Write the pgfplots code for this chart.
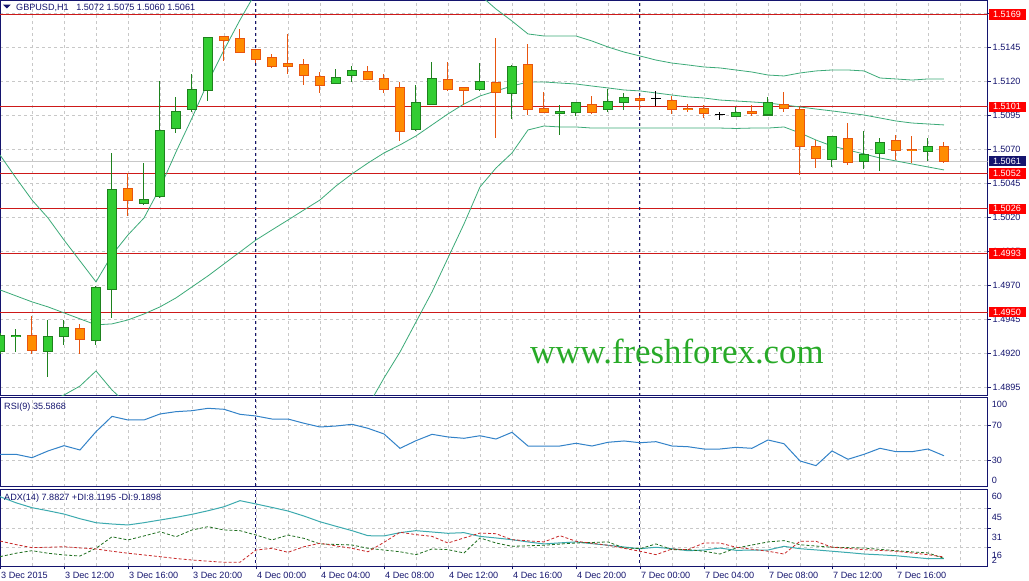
\documentclass[border=0pt]{standalone}
\usepackage{fontspec}
\setmainfont{Liberation Sans}
\newfontfamily\wmfont{Liberation Serif}
\usepackage{pgfplots}
\usepackage{pgfplotstable}
\pgfplotsset{compat=1.18}

\definecolor{mtnavy}{RGB}{20,20,110}
\definecolor{mtgrid}{RGB}{200,200,200}
\definecolor{bullfill}{RGB}{50,205,50}
\definecolor{bullline}{RGB}{30,130,30}
\definecolor{bearfill}{RGB}{255,140,0}
\definecolor{bearline}{RGB}{232,85,15}
\definecolor{bbgreen}{RGB}{60,170,120}
\definecolor{levelred}{RGB}{205,25,25}
\definecolor{boxred}{RGB}{255,0,0}
\definecolor{rsiblue}{RGB}{50,130,200}
\definecolor{adxteal}{RGB}{60,170,175}
\definecolor{pdigreen}{RGB}{30,110,30}
\definecolor{mdired}{RGB}{200,40,40}
\definecolor{wmgreen}{RGB}{40,170,40}
\definecolor{bidgray}{RGB}{200,200,200}

\newcommand\mtfont{\fontsize{9.1pt}{10pt}\selectfont}

% hourly candles, x = bar number (3 Dec 08:00 = 0)
\pgfplotstableread{
x o h l c
0 1.4921 1.4935 1.4919 1.4933
1 1.4932 1.4938 1.4921 1.4933
3 1.4921 1.4944 1.4902 1.4932
4 1.4932 1.4944 1.4926 1.4939
6 1.4929 1.4969 1.4926 1.4968
7 1.4967 1.5067 1.4946 1.5040
9 1.5030 1.5060 1.5029 1.5033
10 1.5035 1.5120 1.5034 1.5084
11 1.5085 1.5108 1.5082 1.5098
12 1.5099 1.5125 1.5097 1.5114
13 1.5113 1.5152 1.5105 1.5152
21 1.5118 1.5129 1.5118 1.5123
22 1.5124 1.5131 1.5119 1.5128
26 1.5084 1.5117 1.5083 1.5104
27 1.5103 1.5134 1.5102 1.5122
30 1.5114 1.5133 1.5113 1.5120
32 1.5111 1.5132 1.5092 1.5131
35 1.5096 1.5102 1.5080 1.5098
36 1.5097 1.5104 1.5094 1.5104
38 1.5099 1.5114 1.5097 1.5105
39 1.5104 1.5111 1.5099 1.5108
46 1.5094 1.5101 1.5094 1.5097
48 1.5095 1.5108 1.5095 1.5104
52 1.5062 1.5079 1.5057 1.5079
54 1.5061 1.5083 1.5055 1.5066
55 1.5067 1.5078 1.5054 1.5075
58 1.5068 1.5078 1.5061 1.5072
}\bull

\pgfplotstableread{
x o h l c
2 1.4933 1.4947 1.4919 1.4922
5 1.4938 1.4941 1.4919 1.4930
8 1.5041 1.5052 1.5021 1.5032
14 1.5153 1.5153 1.5135 1.5150
15 1.5151 1.5158 1.5141 1.5141
16 1.5143 1.5143 1.5133 1.5136
17 1.5137 1.5140 1.5130 1.5131
18 1.5133 1.5155 1.5125 1.5131
19 1.5132 1.5136 1.5117 1.5124
20 1.5123 1.5127 1.5111 1.5117
23 1.5127 1.5131 1.5121 1.5121
24 1.5122 1.5125 1.5111 1.5114
25 1.5115 1.5119 1.5076 1.5083
28 1.5121 1.5134 1.5113 1.5114
29 1.5115 1.5115 1.5102 1.5113
31 1.5119 1.5152 1.5078 1.5112
33 1.5132 1.5147 1.5095 1.5099
34 1.5100 1.5112 1.5097 1.5097
37 1.5103 1.5109 1.5096 1.5097
40 1.5107 1.5109 1.5099 1.5106
42 1.5106 1.5109 1.5096 1.5099
43 1.5100 1.5103 1.5097 1.5099
44 1.5100 1.5102 1.5093 1.5096
47 1.5098 1.5102 1.5094 1.5096
49 1.5103 1.5112 1.5097 1.5100
50 1.5099 1.5101 1.5051 1.5072
51 1.5072 1.5077 1.5056 1.5063
53 1.5078 1.5089 1.5058 1.5060
56 1.5076 1.5080 1.5062 1.5069
57 1.5070 1.5080 1.5060 1.5069
59 1.5072 1.5075 1.5060 1.5061
}\bear

\pgfplotstableread{
x o h l c
41 1.5107 1.5113 1.5102 1.5107
45 1.5095 1.5097 1.5091 1.5095
}\doji

% bollinger bands
\pgfplotstableread{
x up mid lo
0 1.50656 1.49664 1.48634
1 1.50487 1.49620 1.48707
2 1.50325 1.49576 1.48781
3 1.50193 1.49539 1.48840
4 1.50031 1.49495 1.48891
5 1.49877 1.49451 1.48957
6 1.49723 1.49407 1.49068
7 1.49921 1.49414 1.48928
8 1.50068 1.49443 1.48818
9 1.50193 1.49487 1.48781
10 1.50414 1.49539 1.48663
11 1.50678 1.49605 1.48531
12 1.50928 1.49686 1.48443
13 1.51193 1.49767 1.48340
14 1.51428 1.49855 1.48281
15 1.51649 1.49943 1.48237
16 1.51854 1.50031 1.48207
17 1.52053 1.50105 1.48156
18 1.52200 1.50178 1.48156
19 1.52310 1.50252 1.48193
20 1.52384 1.50325 1.48266
21 1.52420 1.50428 1.48435
22 1.52420 1.50517 1.48612
23 1.52384 1.50597 1.48810
24 1.52325 1.50671 1.49016
25 1.52237 1.50730 1.49207
26 1.52148 1.50796 1.49428
27 1.52090 1.50877 1.49649
28 1.52016 1.50958 1.49899
29 1.51928 1.51031 1.50149
30 1.51832 1.51090 1.50421
31 1.51729 1.51127 1.50560
32 1.51641 1.51163 1.50671
33 1.51546 1.51193 1.50840
34 1.51531 1.51193 1.50869
35 1.51531 1.51185 1.50862
36 1.51531 1.51178 1.50862
37 1.51494 1.51163 1.50854
38 1.51450 1.51149 1.50854
39 1.51413 1.51134 1.50854
40 1.51384 1.51127 1.50854
41 1.51354 1.51112 1.50854
42 1.51332 1.51097 1.50854
43 1.51318 1.51083 1.50854
44 1.51303 1.51075 1.50854
45 1.51296 1.51060 1.50854
46 1.51281 1.51053 1.50851
47 1.51266 1.51046 1.50854
48 1.51244 1.51038 1.50854
49 1.51237 1.51024 1.50862
50 1.51259 1.51009 1.50818
51 1.51274 1.50994 1.50766
52 1.51281 1.50980 1.50722
53 1.51281 1.50965 1.50693
54 1.51274 1.50950 1.50663
55 1.51222 1.50928 1.50634
56 1.51215 1.50906 1.50612
57 1.51207 1.50891 1.50590
58 1.51215 1.50884 1.50568
59 1.51215 1.50877 1.50546
}\bb

\pgfplotstableread{
x v
0 37.2
1 37.2
2 33.4
3 41
4 47
5 42.1
6 62.8
7 80.1
8 76
9 76
10 82.8
11 85.4
12 86.5
13 89.2
14 88.1
15 82.4
16 80.5
17 77.1
18 77.1
19 72.3
20 68.1
21 69.2
22 71.1
23 66.6
24 60.2
25 44
26 52.6
27 59.8
28 56.8
29 55.3
30 58.2
31 54.5
32 62.1
33 46.6
34 46.6
35 46.6
36 49.7
37 46.6
38 50.8
39 52.3
40 50.3
41 51.5
42 46.6
43 45.8
44 43.2
45 43.2
46 45.1
47 44
48 53.4
49 49.2
50 29.7
51 24.4
52 41
53 31.6
54 37.2
55 44
56 40.2
57 40.2
58 43.2
59 35.59
}\rsi

\pgfplotstableread{
x adx pdi mdi
0 54.6 9.4 21.2
1 50 12 18.5
2 46.3 13.9 16.2
3 44 12 16.5
4 41.5 10.7 16.9
5 38 9.9 16
6 35 15.7 15.2
7 34 24.4 13.5
8 33.3 22 12
9 35 25 10.7
10 37 28.2 9.4
11 39 24.4 8
12 41.3 29.5 6.9
13 44 32 6
14 47 29.5 5.2
15 51.6 29 5.2
16 49.1 25.7 14.4
17 46.5 22 15.7
18 43.8 25.7 12.7
19 40 23.2 16.9
20 35.7 19 19.5
21 32.3 18.6 17.5
22 29 18.2 15.7
23 25.2 15.7 13.1
24 25 14.4 20.2
25 27.5 13.1 27.8
26 29 10.9 26
27 28 15.2 24.7
28 27 14.7 19.7
29 27.5 12.2 23.5
30 24.7 23.5 27.2
31 23.5 19.7 26.7
32 22.2 17.2 22.2
33 20.5 17.6 21.3
34 19 18 20.5
35 19.8 18.9 25.2
36 20.5 19.7 21
37 19.2 20.1 19.5
38 18 20.5 18
39 16.7 16 15.7
40 15.4 15.4 13.5
41 16.5 19 10.9
42 15.4 14.7 15.2
43 13.9 14.7 14.7
44 14.4 13.5 19.7
45 15.9 11.4 19.7
46 14.2 15.9 16.5
47 14.3 18.2 15
48 14.4 20.5 13.5
49 17.2 21.5 11.4
50 15.4 18.4 21
51 14.5 17.4 21
52 13.5 16.5 16.5
53 12.5 16.2 15.6
54 11.4 15.9 14.7
55 10.8 14.9 14.1
56 10.1 13.9 13.5
57 9 13 12.2
58 7.9 12.2 10.9
59 7.88 8.12 9.19
}\adx

\pgfplotsset{
  mtpanel/.style={
    scale only axis, width=987.5pt,
    xmin=0, xmax=61.72,
    axis line style={mtnavy, line width=1pt},
    xtick={2,4,...,60}, xticklabels={},
    xtick style={draw=none},
    xtick pos=left,
    grid=major,
    major grid style={mtgrid, dash pattern=on 3pt off 3pt, line width=0.8pt},
    tick align=outside, major tick length=3pt,
    ytick pos=right,
    ytick style={mtnavy, line width=0.8pt},
    clip mode=individual,
    scaled y ticks=false,
  },
  sep/.style={mtnavy, dash pattern=on 3pt off 3pt, line width=1pt, forget plot},
  ebar/.style 2 args={draw=none, mark=none, forget plot,
    error bars/.cd, y dir=both, y explicit, error mark=none,
    error bar style={draw=#1, line width=#2}},
}

\begin{document}
\begin{tikzpicture}
\useasboundingbox (0pt,0pt) rectangle (1029pt,581pt);
\fill[white] (0pt,0pt) rectangle (1029pt,581pt);

% ---------- price panel ----------
\begin{axis}[mtpanel, at={(0pt,185.3pt)}, anchor=south west, height=395.2pt,
  ymin=1.48886, ymax=1.51792,
  ytick={1.4895,1.4920,1.4945,1.4970,1.4995,1.5020,1.5045,1.5070,1.5095,1.5120,1.5145,1.5170},
  yticklabels={1.4895,1.4920,1.4945,1.4970,1.4995,1.5020,1.5045,1.5070,1.5095,1.5120,1.5145,1.5170},
  yticklabel pos=right,
  yticklabel style={font=\mtfont, text=mtnavy, anchor=west, inner sep=0pt, xshift=2pt},
]
\addplot[bidgray, line width=0.8pt, forget plot] coordinates {(0,1.5061) (61.72,1.5061)};
\pgfplotsinvokeforeach{1.5169,1.5101,1.5052,1.5026,1.4993,1.4950}{
  \addplot[levelred, line width=1.2pt, forget plot] coordinates {(0,#1) (61.72,#1)};
}
\addplot[sep] coordinates {(16,1.48) (16,1.53)};
\addplot[sep] coordinates {(40,1.48) (40,1.53)};

\addplot[bbgreen, line width=0.8pt] table[x=x, y=up] {\bb};
\addplot[bbgreen, line width=0.8pt] table[x=x, y=mid] {\bb};
\addplot[bbgreen, line width=0.8pt] table[x=x, y=lo] {\bb};

% wicks
\addplot[ebar={bullline}{1pt}]
  table[x=x, y expr={(\thisrow{h}+\thisrow{l})/2}, y error expr={(\thisrow{h}-\thisrow{l})/2}] {\bull};
\addplot[ebar={bearline}{1pt}]
  table[x=x, y expr={(\thisrow{h}+\thisrow{l})/2}, y error expr={(\thisrow{h}-\thisrow{l})/2}] {\bear};
\addplot[ebar={black}{1pt}]
  table[x=x, y expr={(\thisrow{h}+\thisrow{l})/2}, y error expr={(\thisrow{h}-\thisrow{l})/2}] {\doji};
\addplot[draw=none, mark=none, forget plot, error bars/.cd, x dir=both, x fixed=0.34, error mark=none,
  error bar style={draw=black, line width=1pt}]
  table[x=x, y=o] {\doji};
% bodies
\addplot[ebar={bullline}{10pt}]
  table[x=x, y expr={(\thisrow{o}+\thisrow{c})/2}, y error expr={abs(\thisrow{o}-\thisrow{c})/2+0.0000368}] {\bull};
\addplot[ebar={bullfill}{8pt}]
  table[x=x, y expr={(\thisrow{o}+\thisrow{c})/2}, y error expr={max(abs(\thisrow{o}-\thisrow{c})/2-0.0000368,0.000001)}] {\bull};
\addplot[ebar={bearline}{10pt}]
  table[x=x, y expr={(\thisrow{o}+\thisrow{c})/2}, y error expr={abs(\thisrow{o}-\thisrow{c})/2+0.0000368}] {\bear};
\addplot[ebar={bearfill}{8pt}]
  table[x=x, y expr={(\thisrow{o}+\thisrow{c})/2}, y error expr={max(abs(\thisrow{o}-\thisrow{c})/2-0.0000368,0.000001)}] {\bear};

\coordinate (L1) at (axis cs:61.72,1.5169);
\coordinate (L2) at (axis cs:61.72,1.5101);
\coordinate (L3) at (axis cs:61.72,1.5052);
\coordinate (L4) at (axis cs:61.72,1.5026);
\coordinate (L5) at (axis cs:61.72,1.4993);
\coordinate (L6) at (axis cs:61.72,1.4950);
\coordinate (BID) at (axis cs:61.72,1.5061);
\end{axis}

% ---------- RSI panel ----------
\begin{axis}[mtpanel, at={(0pt,94.3pt)}, anchor=south west, height=89pt,
  ymin=0.62, ymax=101.19, ytick={30,70}, yticklabels={}]
\addplot[sep] coordinates {(16,-5) (16,110)};
\addplot[sep] coordinates {(40,-5) (40,110)};
\addplot[rsiblue, line width=1pt] table[x=x, y=v] {\rsi};
\end{axis}

% ---------- ADX panel ----------
\begin{axis}[mtpanel, at={(0pt,14.5pt)}, anchor=south west, height=77pt,
  ymin=2, ymax=60, ytick={16.5,31,45.5}, yticklabels={},
  extra x ticks={0,4,...,56},
  extra x tick labels={3 Dec 2015,3 Dec 12:00,3 Dec 16:00,3 Dec 20:00,4 Dec 00:00,4 Dec 04:00,4 Dec 08:00,4 Dec 12:00,4 Dec 16:00,4 Dec 20:00,7 Dec 00:00,7 Dec 04:00,7 Dec 08:00,7 Dec 12:00,7 Dec 16:00},
  extra x tick style={grid=none, xtick style={draw=mtnavy, line width=0.8pt},
    xticklabel style={font=\mtfont, text=mtnavy, anchor=west, inner sep=0pt, xshift=1pt, yshift=-6pt}},
]
\addplot[sep] coordinates {(16,0) (16,70)};
\addplot[sep] coordinates {(40,0) (40,70)};
\addplot[adxteal, line width=1pt] table[x=x, y=adx] {\adx};
\addplot[pdigreen, line width=0.8pt, dash pattern=on 3pt off 2pt] table[x=x, y=pdi] {\adx};
\addplot[mdired, line width=0.8pt, dash pattern=on 3pt off 2pt] table[x=x, y=mdi] {\adx};
\end{axis}

% level price tags
\foreach \c/\t in {L1/1.5169, L2/1.5101, L3/1.5052, L4/1.5026, L5/1.4993, L6/1.4950}{
  \node[fill=boxred, text=white, font=\mtfont, inner sep=0pt, minimum width=37pt, minimum height=10.5pt, anchor=west]
    at ([xshift=0.8pt]\c) {\t};
}
\node[fill=mtnavy, text=white, font=\mtfont, inner sep=0pt, minimum width=37pt, minimum height=10.5pt, anchor=west]
  at ([xshift=0.8pt]BID) {1.5061};

% titles
\fill[mtnavy] (3pt,576.3pt) -- (10.7pt,576.3pt) -- (6.85pt,572.5pt) -- cycle;
\node[anchor=west, font=\mtfont, text=mtnavy, inner sep=0pt] at (16pt,573.5pt)
  {GBPUSD,H1\hspace{7.5pt}1.5072 1.5075 1.5060 1.5061};
\node[anchor=west, font=\mtfont, text=mtnavy, inner sep=0pt] at (4pt,174.3pt) {RSI(9) 35.5868};
\node[anchor=west, font=\mtfont, text=mtnavy, inner sep=0pt] at (4pt,82.7pt) {ADX(14) 7.8827 +DI:8.1195 -DI:9.1898};

% indicator scales
\foreach \y/\t in {176.7/100, 156/70, 121/30, 101/0}{
  \node[anchor=west, font=\mtfont, text=mtnavy, inner sep=0pt] at (991.7pt,\y pt) {\t};
}
\foreach \y/\t in {85/60, 63.3/45, 44/31, 25.7/16, 21/2}{
  \node[anchor=west, font=\mtfont, text=mtnavy, inner sep=0pt] at (991.7pt,\y pt) {\t};
}

% watermark
\node[anchor=base west, font=\wmfont\fontsize{34.8pt}{40pt}\selectfont, text=wmgreen, inner sep=0pt]
  at (530pt,217pt) {www.freshforex.com};
\end{tikzpicture}
\end{document}
